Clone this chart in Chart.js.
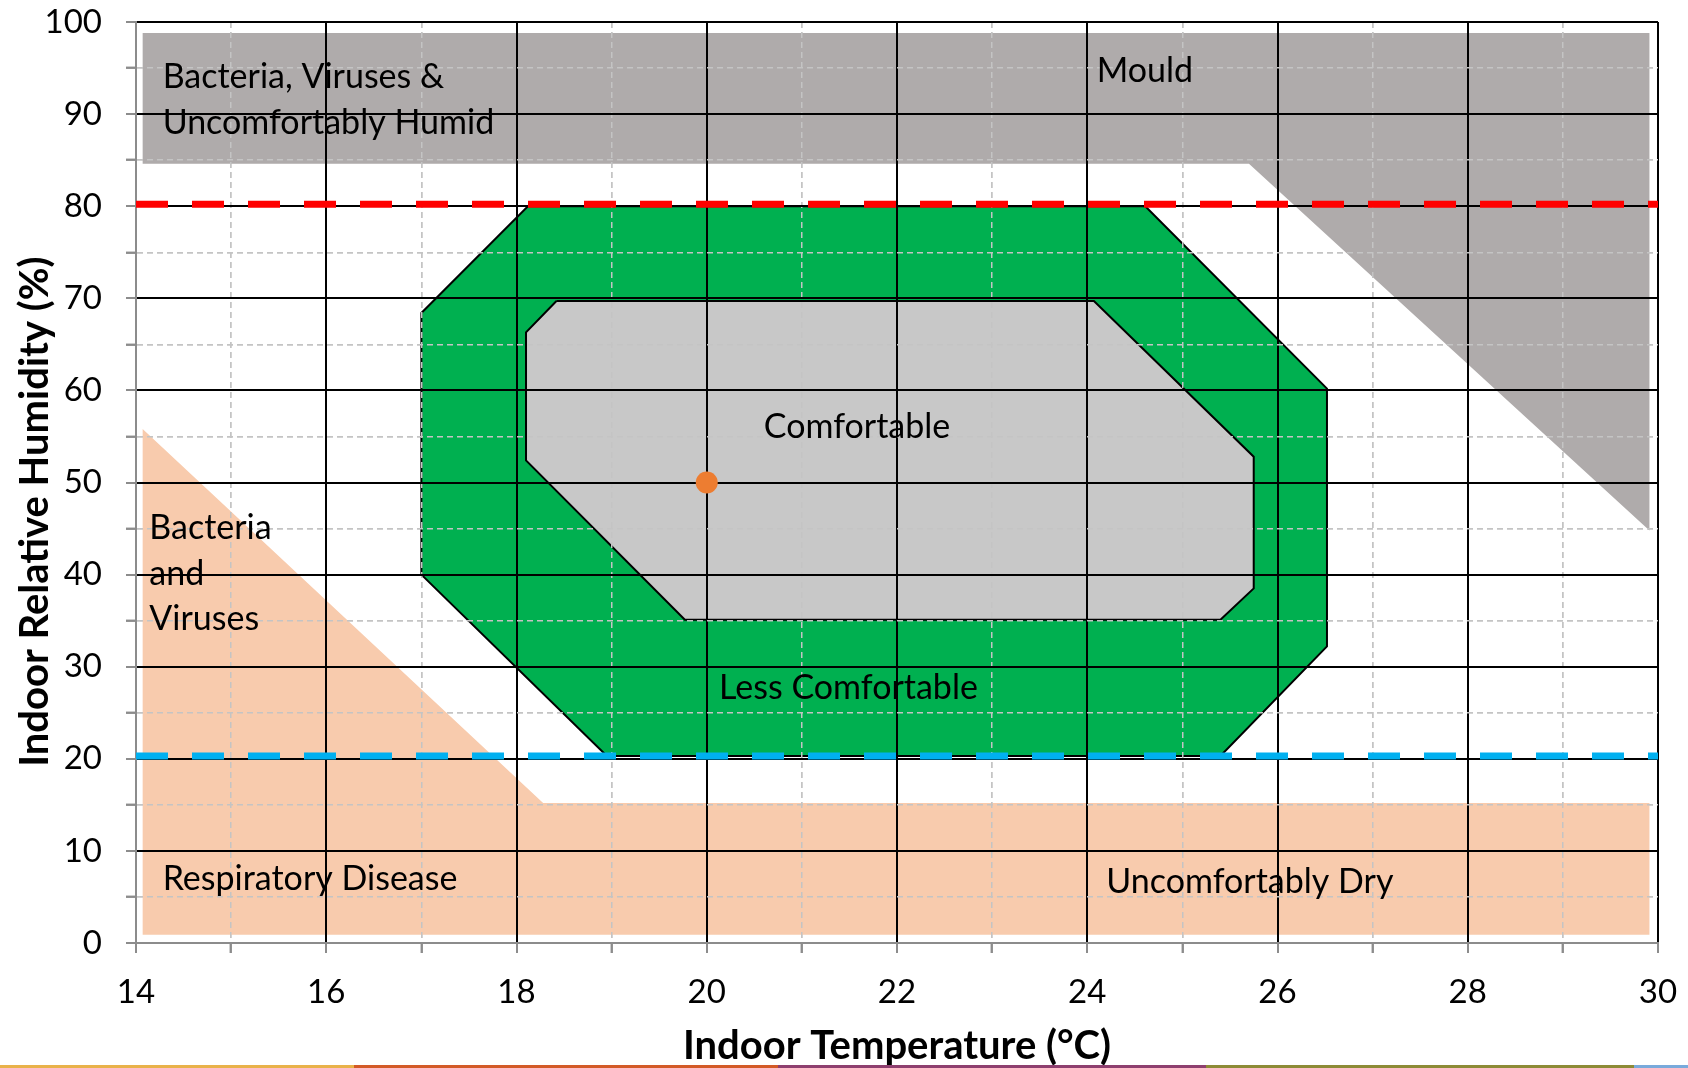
<!DOCTYPE html>
<html>
<head>
<meta charset="utf-8">
<title>Indoor comfort chart</title>
<script src="https://cdn.jsdelivr.net/npm/chart.js@4.4.0/dist/chart.umd.min.js"></script>
<style>
  html, body { margin: 0; padding: 0; background: #ffffff; }
  #wrap { width: 1688px; height: 1068px; position: relative; }
  #strip { position: absolute; left: 0; bottom: 0; width: 1688px; height: 3px; display: flex; }
  #strip div { height: 3px; }
</style>
</head>
<body>
<div id="wrap">
  <canvas id="grafica_confort"></canvas>
  <div id="strip">
    <div style="width:354px;background:#E9B24A"></div>
    <div style="width:424px;background:#D35A27"></div>
    <div style="width:428px;background:#8E3F6F"></div>
    <div style="width:428px;background:#8D8B36"></div>
    <div style="width:54px;background:#79AADB"></div>
  </div>
</div>
<script>
//Datos: temperatura interior (°C) y humedad relativa (%)

//Zona gris arriba (bacterias / humedo / moho)
const humidZoneT  = [14.07, 29.91, 29.91, 25.70, 14.07];
const humidZoneRH = [98.8, 98.8, 44.8, 84.6, 84.6];

//Zona salmon abajo (seco / respiratorio)
const dryZoneT  = [14.07, 14.07, 18.28, 29.91, 29.91];
const dryZoneRH = [0.9, 55.8, 15.2, 15.2, 0.9];

//Zona verde (menos confortable)
const lessComfT  = [17.0, 17.0, 18.12, 24.61, 26.52, 26.52, 25.40, 18.95, 17.0];
const lessComfRH = [40.0, 68.4, 80.0, 80.0, 60.2, 32.2, 20.3, 20.3, 40.0];

//Zona gris clara (confortable)
const comfT  = [18.42, 18.10, 18.10, 19.77, 25.40, 25.75, 25.75, 24.07, 18.42];
const comfRH = [69.7, 66.3, 52.4, 35.1, 35.1, 38.5, 52.8, 69.7, 69.7];

//Limites y punto objetivo
const limitT = [14, 30];
const upperLimitRH = [80.2, 80.2];
const lowerLimitRH = [20.3, 20.3];
const targetT = [20];
const targetRH = [50];

//Textos de las zonas
const zoneLabels = ['Bacteria, Viruses &', 'Uncomfortably Humid', 'Mould', 'Comfortable',
  'Less Comfortable', 'Bacteria', 'and', 'Viruses', 'Respiratory Disease', 'Uncomfortably Dry'];
const labelT  = [14.28, 14.28, 24.10, 20.60, 20.13, 14.14, 14.14, 14.14, 14.28, 24.20];
const labelRH = [94.0, 89.0, 94.7, 56.0, 27.7, 45.1, 40.1, 35.2, 6.9, 6.6];

//Ejes
const tempMin = 14, tempMax = 30, tempStep = 1;
const rhMin = 0, rhMax = 100, rhStep = 5;

function toPoints(xs, ys) {
  return xs.map((x, i) => ({ x: x, y: ys[i] }));
}

const axisGrey = '#8c8c8c';
const minorGrey = '#c4c4c4';

function isMajorX(v) { return v % 2 === 0; }
function isMajorY(v) { return v % 10 === 0; }

//Dibuja la rejilla otra vez encima de las zonas (como en Excel)
const gridOverZones = {
  id: 'gridOverZones',
  afterDatasetDraw(chart, args) {
    if (chart.data.datasets[args.index].label !== 'Comfortable') return;
    chart.scales.x.drawGrid(chart.chartArea);
    chart.scales.y.drawGrid(chart.chartArea);
  }
};

const zoneText = {
  id: 'zoneText',
  afterDatasetsDraw(chart) {
    const ctx = chart.ctx;
    const sx = chart.scales.x, sy = chart.scales.y;
    ctx.save();
    ctx.font = '34px Lato';
    ctx.fillStyle = '#000000';
    ctx.textAlign = 'left';
    ctx.textBaseline = 'middle';
    zoneLabels.forEach((txt, i) => {
      ctx.fillText(txt, sx.getPixelForValue(labelT[i]), sy.getPixelForValue(labelRH[i]));
    });
    ctx.restore();
  }
};

const grafica_confort = document.getElementById('grafica_confort');

const data_confort = {
  datasets: [
    {
      label: 'Target',
      data: toPoints(targetT, targetRH),
      backgroundColor: '#ED7D31',
      borderWidth: 0,
      pointRadius: 11,
      order: 0
    },
    {
      label: 'Upper limit',
      data: toPoints(limitT, upperLimitRH),
      showLine: true,
      borderColor: '#FF0000',
      borderWidth: 7,
      borderDash: [32, 24],
      borderCapStyle: 'butt',
      pointRadius: 0,
      order: 1
    },
    {
      label: 'Lower limit',
      data: toPoints(limitT, lowerLimitRH),
      showLine: true,
      borderColor: '#00B0F0',
      borderWidth: 7,
      borderDash: [32, 24],
      borderCapStyle: 'butt',
      pointRadius: 0,
      order: 1
    },
    {
      label: 'Comfortable',
      data: toPoints(comfT, comfRH),
      showLine: true,
      fill: 'shape',
      backgroundColor: '#C8C8C8',
      borderColor: '#000000',
      borderWidth: 2,
      pointRadius: 0,
      order: 2
    },
    {
      label: 'Less Comfortable',
      data: toPoints(lessComfT, lessComfRH),
      showLine: true,
      fill: 'shape',
      backgroundColor: '#00B050',
      borderColor: '#000000',
      borderWidth: 2,
      pointRadius: 0,
      order: 3
    },
    {
      label: 'Humid',
      data: toPoints(humidZoneT, humidZoneRH),
      showLine: true,
      fill: 'shape',
      backgroundColor: '#AFABAB',
      borderWidth: 0,
      pointRadius: 0,
      order: 4
    },
    {
      label: 'Dry',
      data: toPoints(dryZoneT, dryZoneRH),
      showLine: true,
      fill: 'shape',
      backgroundColor: '#F8CBAD',
      borderWidth: 0,
      pointRadius: 0,
      order: 4
    }
  ]
};

let grafica_confort_OBJ = new Chart(grafica_confort, {
  type: 'scatter',
  data: data_confort,
  plugins: [gridOverZones, zoneText],
  options: {
    responsive: true,
    maintainAspectRatio: false,
    animation: false,
    events: [],
    layout: { padding: { top: 22, right: 30, bottom: 0, left: 0 } },
    plugins: {
      legend: { display: false },
      tooltip: { enabled: false }
    },
    scales: {
      x: {
        type: 'linear',
        min: tempMin,
        max: tempMax,
        afterFit: (s) => { s.height = 125; s.paddingLeft = 0; s.paddingRight = 0; },
        ticks: {
          stepSize: tempStep,
          autoSkip: false,
          maxRotation: 0,
          padding: 20,
          color: '#000000',
          font: { family: 'Lato', size: 33 },
          callback: (v) => isMajorX(v) ? v : ''
        },
        grid: {
          color: (c) => {
            if (!c.tick) return '#000000';
            if (c.tick.value === tempMin) return axisGrey;
            return isMajorX(c.tick.value) ? '#000000' : minorGrey;
          },
          lineWidth: (c) => (c.tick && !isMajorX(c.tick.value)) ? 1.5 : 2,
          tickColor: axisGrey,
          tickWidth: 2,
          tickLength: 10
        },
        border: {
          color: axisGrey,
          width: 2,
          dash: (c) => (c.tick && !isMajorX(c.tick.value)) ? [6, 4] : []
        },
        title: {
          display: true,
          text: 'Indoor Temperature (°C)',
          color: '#000000',
          font: { family: 'Lato', size: 40, weight: 'bold', lineHeight: 1.1 },
          padding: { top: 0, bottom: 0 }
        }
      },
      y: {
        type: 'linear',
        min: rhMin,
        max: rhMax,
        afterFit: (s) => { s.width = 136; s.paddingTop = 0; s.paddingBottom = 0; },
        ticks: {
          stepSize: rhStep,
          autoSkip: false,
          padding: 24,
          color: '#000000',
          font: { family: 'Lato', size: 33 },
          callback: (v) => isMajorY(v) ? v : ''
        },
        grid: {
          color: (c) => {
            if (!c.tick) return '#000000';
            if (c.tick.value === rhMin) return axisGrey;
            return isMajorY(c.tick.value) ? '#000000' : minorGrey;
          },
          lineWidth: (c) => (c.tick && !isMajorY(c.tick.value)) ? 1.5 : 2,
          tickColor: axisGrey,
          tickWidth: 2,
          tickLength: 10
        },
        border: {
          color: axisGrey,
          width: 2,
          dash: (c) => (c.tick && !isMajorY(c.tick.value)) ? [6, 4] : []
        },
        title: {
          display: true,
          text: 'Indoor Relative Humidity (%)\u00A0\u00A0\u00A0\u00A0\u00A0\u00A0',
          color: '#000000',
          font: { family: 'Lato', size: 40, weight: 'bold', lineHeight: 1.1 },
          padding: { top: 13, bottom: 0 }
        }
      }
    }
  }
});
</script>
</body>
</html>
